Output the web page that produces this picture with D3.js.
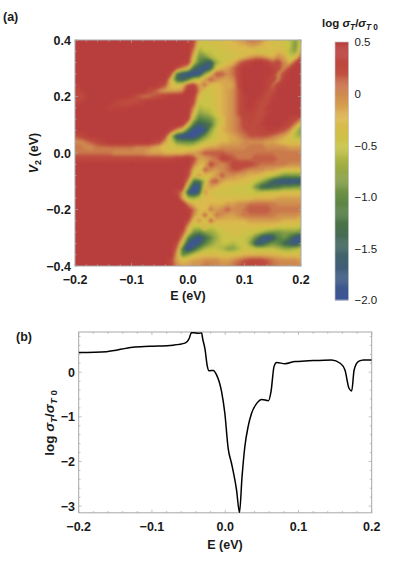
<!DOCTYPE html>
<html><head><meta charset="utf-8">
<script src="https://cdnjs.cloudflare.com/ajax/libs/d3/7.8.5/d3.min.js"></script>
<style>html,body{margin:0;padding:0;background:#fff}svg{display:block}
text{font-family:"Liberation Sans",Arial,sans-serif;fill:#1a1a1a}</style></head><body>
<svg id="c" width="395" height="566"></svg>
<script>
// Heatmap values, in tenths of log(sigma_T/sigma_T0). Rows: V2 = 0.40 down to -0.40 step 0.02
const energyLeft = d3.range(-20,0).map(n=>n/100);   // columns of negValues
const energyRight = d3.range(0,21).map(n=>n/100);   // columns of posValues
const negValues = [
[5,5,5,5,5,5,5,5,5,5,5,5,5,5,5,5,5,5,5,5],
[5,5,5,5,5,5,5,5,5,5,5,5,5,5,5,5,5,5,5,5],
[5,5,5,5,5,5,5,5,5,5,5,5,5,5,5,5,5,5,5,5],
[5,5,5,5,5,5,5,5,5,5,5,5,5,5,5,5,5,5,5,5],
[5,5,5,5,5,5,5,5,5,5,5,5,5,5,5,5,5,5,5,5],
[5,5,5,5,5,5,5,5,5,5,5,5,5,5,5,5,5,5,3,0],
[5,5,5,5,5,5,5,5,5,5,5,5,5,5,5,5,5,3,-12,-17],
[5,5,5,5,5,5,5,5,5,5,5,5,5,5,5,5,5,-3,-13,-15],
[4,5,5,5,5,5,5,5,5,5,5,5,5,5,5,4,2,-3,-4,-3],
[3,4,5,5,5,5,5,5,5,5,5,5,5,3,2,0,-1,-1,-1,0],
[3,3,4,5,5,5,5,5,5,5,4,2,1,1,2,3,4,5,5,5],
[3,4,5,5,5,5,5,4,3,2,2,3,4,5,5,5,5,5,5,5],
[5,5,5,5,5,5,4,4,4,4,5,5,5,5,5,5,5,5,5,5],
[5,5,5,5,5,5,5,5,5,5,5,5,5,5,5,5,5,5,5,5],
[5,5,5,5,5,5,5,5,5,5,5,5,5,5,5,5,5,5,5,5],
[5,5,5,5,5,5,5,5,5,5,5,5,5,5,5,5,5,5,5,4],
[5,5,5,5,5,5,5,5,5,5,5,5,5,5,5,5,5,3,-1,-4],
[2,3,4,5,5,5,5,5,5,5,5,5,5,5,5,5,3,-6,-17,-20],
[0,0,1,2,3,4,5,5,5,5,5,5,5,5,4,3,-1,-4,-9,-10],
[1,1,0,0,1,1,1,1,1,1,1,0,0,0,-1,-2,-3,-4,-4,-4],
[1,1,1,1,1,1,1,0,0,0,0,0,0,-1,-1,-1,-2,-2,-2,-2],
[3,3,3,3,3,3,3,3,3,3,3,3,3,3,3,3,3,3,4,4],
[5,5,5,5,5,5,5,5,5,5,5,5,5,5,5,5,5,5,5,5],
[5,5,5,5,5,5,5,5,5,5,5,5,5,5,5,5,5,5,5,5],
[5,5,5,5,5,5,5,5,5,5,5,5,5,5,5,5,5,5,5,5],
[5,5,5,5,5,5,5,5,5,5,5,5,5,5,5,5,5,5,5,5],
[5,5,5,5,5,5,5,5,5,5,5,5,5,5,5,5,5,5,5,5],
[5,5,5,5,5,5,5,5,5,5,5,5,5,5,5,5,5,5,3,0],
[5,5,5,5,5,5,5,5,5,5,5,5,5,5,5,5,5,5,5,-1],
[5,5,5,5,5,5,5,5,5,5,5,5,5,5,5,5,5,5,5,5],
[5,5,5,5,5,5,5,5,5,5,5,5,5,5,5,5,5,5,5,5],
[5,5,5,5,5,5,5,5,5,5,5,5,5,5,5,5,5,5,5,5],
[5,5,5,5,5,5,5,5,5,5,5,5,5,5,5,5,5,5,5,5],
[5,5,5,5,5,5,5,5,5,5,5,5,5,5,5,5,5,5,5,5],
[5,5,5,5,5,5,5,5,5,5,5,5,5,5,5,5,5,5,5,3],
[5,5,5,5,5,5,5,5,5,5,5,5,5,5,5,5,5,5,5,0],
[5,5,5,5,5,5,5,5,5,5,5,5,5,5,5,5,5,5,3,-4],
[5,5,5,5,5,5,5,5,5,5,5,5,5,5,5,5,5,5,1,-12],
[5,5,5,5,5,5,5,5,5,5,5,5,5,5,5,5,5,5,-1,-10],
[5,5,5,5,5,5,5,5,5,5,5,5,5,5,5,5,5,3,-1,-3],
[5,5,5,5,5,5,5,5,5,5,5,5,5,5,5,5,5,3,0,-1]
];
const posValues = [
[5,3,-3,-4,-3,-3,-3,-2,-2,-1,0,1,1,0,-2,-3,-3,-4,-5,-8,-4],
[5,2,-5,-4,-4,-4,-3,-3,-2,-2,-2,-1,-1,-2,-2,-3,-3,-4,-5,-9,-3],
[5,0,-7,-5,-5,-4,-4,-4,-3,-3,-3,-3,-4,-4,-4,-3,-2,-3,-6,-8,-1],
[5,-3,-9,-9,-6,-5,-4,-4,-4,-3,-2,-1,0,0,-1,-2,0,-1,-5,-4,2],
[4,-5,-11,-14,-17,-7,-5,-3,-2,1,3,4,5,5,4,2,3,0,-2,3,5],
[-3,-13,-16,-20,-15,-4,-2,-1,1,3,5,5,5,5,5,4,3,0,3,5,5],
[-19,-20,-19,-8,-3,2,2,0,1,3,5,5,5,5,5,4,0,3,5,5,5],
[-12,-6,-4,-1,2,0,-1,-1,0,3,5,5,5,5,4,4,0,4,5,5,5],
[3,4,-1,1,-3,-3,-2,-1,-1,3,5,5,5,5,4,1,4,5,5,5,5],
[5,5,0,-4,-4,-3,-2,-1,0,2,5,5,5,5,3,2,5,5,5,5,5],
[5,4,-3,-4,-4,-3,-2,-1,0,2,4,5,5,4,2,4,5,5,5,5,5],
[5,3,-5,-5,-4,-3,-2,-1,0,2,4,5,4,3,2,5,5,5,5,5,5],
[5,0,-6,-5,-5,-3,-2,-1,0,2,4,5,4,2,4,5,5,5,5,5,5],
[5,-3,-8,-7,-6,-4,-2,-1,0,2,4,4,3,2,4,5,5,5,5,5,5],
[4,-6,-11,-10,-9,-6,-3,-1,0,1,3,4,3,3,5,5,5,5,4,3,1],
[-3,-12,-16,-14,-12,-6,-3,-1,0,1,3,3,3,4,5,5,5,4,3,0,-5],
[-12,-19,-20,-18,-8,-4,-2,-1,0,1,2,3,3,4,4,4,3,2,0,-5,-9],
[-20,-20,-15,-9,-6,-4,-3,-2,-1,0,1,2,2,2,2,1,0,-1,-3,-6,-7],
[-10,-10,-7,-5,-4,-3,-2,-2,-1,-1,0,0,0,0,-1,-1,-2,-3,-3,-3,-3],
[-5,-4,-3,-2,-1,-1,0,0,0,0,0,1,1,1,0,0,0,0,-1,-1,-1],
[-1,-1,0,2,2,2,2,1,1,1,1,1,1,1,1,1,1,1,1,1,1],
[5,3,-1,-1,0,1,3,3,2,1,1,1,2,2,2,2,1,1,1,1,1],
[5,1,-2,-2,3,1,0,1,3,3,3,3,2,1,1,1,1,1,0,0,0],
[4,-2,-4,2,0,-1,0,1,2,2,1,0,0,0,-1,-1,-2,-3,-3,-3,-3],
[3,-4,0,-3,-3,-1,2,0,0,-1,-1,-2,-2,-3,-4,-5,-7,-9,-9,-9,-9],
[0,-12,-13,-6,1,2,-1,-2,-2,-2,-3,-3,-5,-7,-10,-15,-18,-19,-19,-19,-19],
[-7,-20,-18,-2,-1,-2,-3,-3,-4,-4,-4,-5,-9,-14,-15,-13,-12,-10,-10,-9,-9],
[-16,-20,-14,0,-3,-4,-4,-4,-4,-4,-4,-5,-5,-5,-4,-4,-4,-3,-3,-3,-3],
[-6,-7,-5,-3,-2,-3,-3,-3,-3,-3,-3,-3,-2,-2,-2,-2,-1,-1,-1,-1,-1],
[0,-2,-2,-2,-2,-2,-2,-1,-1,0,0,1,1,1,1,1,0,0,0,0,0],
[4,1,-2,-3,1,-1,0,2,0,0,1,2,2,2,2,1,1,1,1,1,1],
[5,0,-3,2,-3,1,0,-1,-1,0,1,1,1,1,1,1,0,0,0,0,-1],
[3,-3,0,-4,2,-2,-2,-2,-2,-2,-2,-1,-1,-1,-1,-1,-1,-2,-2,-2,-3],
[-1,-5,-5,-1,-5,-4,-3,-3,-3,-3,-3,-3,-3,-3,-3,-3,-4,-4,-4,-4,-5],
[-3,-9,-10,-8,-7,-6,-4,-4,-3,-3,-4,-4,-5,-6,-8,-9,-9,-8,-8,-8,-9],
[-10,-15,-20,-14,-10,-7,-5,-4,-4,-4,-5,-6,-10,-17,-20,-18,-11,-9,-12,-19,-18],
[-17,-20,-16,-11,-8,-6,-5,-5,-6,-5,-4,-8,-16,-17,-12,-9,-10,-14,-16,-19,-13],
[-20,-14,-9,-6,-5,-5,-6,-8,-8,-6,-4,-4,-5,-5,-5,-5,-6,-7,-7,-6,-5],
[-8,-5,-3,-3,-3,-3,-3,-3,-3,-3,-2,-2,-2,-2,-2,-2,-2,-3,-3,-3,-3],
[-2,-1,-1,0,0,0,-1,-1,0,1,2,3,3,3,2,1,0,0,0,0,-1],
[-1,0,0,1,1,0,0,0,1,2,3,4,4,3,2,1,1,0,0,0,0]
];
const colorStops = [0.5,0.2,0,-0.25,-0.5,-1,-1.25,-1.5,-2];
const colorHex = ["#b83c3c","#bf4f40","#cf8950","#dcb94e","#c8c446","#648c46","#4b7346","#416464","#3c559b"];
const barTicks = [0.5,0,-0.5,-1,-1.5,-2];
const barTickLabels = ["0.5","0","−0.5","−1.0","−1.5","−2.0"];
// Panel (b) curve
const curveE = [-0.2,-0.162,-0.126,-0.103,-0.071,-0.055,-0.049,-0.046,-0.041,-0.037,-0.032,-0.0313,-0.0274,-0.0247,-0.022,-0.0163,-0.0118,-0.005,-0.0005,0.004,0.0086,0.0155,0.0195,0.023,0.0268,0.0313,0.036,0.043,0.05,0.059,0.0626,0.0667,0.0703,0.0817,0.0954,0.109,0.1454,0.157,0.1635,0.169,0.1727,0.176,0.182,0.189,0.2];
const curveLog = [0.44,0.46,0.56,0.58,0.605,0.65,0.76,0.89,0.88,0.87,0.88,0.80,0.50,0.16,0.03,0.04,-0.06,-0.43,-0.92,-1.70,-2.04,-2.64,-3.14,-2.34,-1.67,-1.22,-0.92,-0.70,-0.61,-0.64,-0.43,0.13,0.215,0.19,0.24,0.25,0.275,0.2,0.05,-0.36,-0.42,0.05,0.24,0.275,0.275];
const xTicksLabels = [-0.2,-0.1,0,0.1,0.2];
const yTicksA = [-0.4,-0.2,0,0.2,0.4];
const yTicksB = [0,-1,-2,-3];

const svg = d3.select("#c");
const fmtSigned = (v,d)=> (v<0?"−":"")+Math.abs(v).toFixed(d);
const axisGrey = "#a8a8a8";
const fontBold = {size:12.5, weight:"bold"};

const grid = negValues.flatMap((r,i)=>r.concat(posValues[i])).map(v=>v/10);
const nx = energyLeft.length+energyRight.length, ny = negValues.length;

const xA = d3.scaleLinear().domain([-0.2,0.2]).range([75,301]);
const yA = d3.scaleLinear().domain([-0.4,0.4]).range([266,40]);
const color = d3.scaleLinear().domain(colorStops).range(colorHex).clamp(true);
const gx = d3.scaleLinear().domain([0.5,nx-0.5]).range(xA.range());
const gy = d3.scaleLinear().domain([0.5,ny-0.5]).range(yA.range().slice().reverse());

const defs = svg.append("defs");
defs.append("clipPath").attr("id","clipA").append("rect")
  .attr("x",xA(-0.2)).attr("y",yA(0.4)).attr("width",xA(0.2)-xA(-0.2)).attr("height",yA(-0.4)-yA(0.4));
defs.append("filter").attr("id","soft").attr("x","-5%").attr("y","-5%").attr("width","110%").attr("height","110%")
  .append("feGaussianBlur").attr("stdDeviation",1.0);
defs.append("clipPath").attr("id","clipB").append("rect")
  .attr("x",78.7).attr("y",332).attr("width",293).attr("height",181);

const thresholds = d3.range(-2,0.5001,0.05);
const contours = d3.contours().size([nx,ny]).thresholds(thresholds).smooth(true)(grid);
const path = d3.geoPath(d3.geoTransform({point(x,y){this.stream.point(gx(x),gy(y));}}));
const heat = svg.append("g").attr("clip-path","url(#clipA)").append("g").attr("filter","url(#soft)");
heat.append("rect").attr("x",xA(-0.2)-4).attr("y",yA(0.4)-4).attr("width",234).attr("height",234).attr("fill",color(-2));
heat.selectAll("path").data(contours).join("path")
  .attr("d",path).attr("fill",d=>color(d.value)).attr("stroke",d=>color(d.value)).attr("stroke-width",0.3);

function frame(x,y,ticksX,ticksY,minorX,minorY){
  const [x0,x1]=x.range(), [y1,y0]=y.range();
  const g=svg.append("g");
  g.append("rect").attr("x",x0).attr("y",y0).attr("width",x1-x0).attr("height",y1-y0)
    .attr("fill","none").attr("stroke",axisGrey).attr("stroke-width",1);
  const tick=(a,b,c,d)=>g.append("line").attr("x1",a).attr("y1",b).attr("x2",c).attr("y2",d).attr("stroke",axisGrey).attr("stroke-width",0.7);
  minorX.forEach(v=>{const l=ticksX.some(t=>Math.abs(t-v)<1e-6)?3:1.8;tick(x(v),y1,x(v),y1-l);tick(x(v),y0,x(v),y0+l);});
  minorY.forEach(v=>{const l=ticksY.some(t=>Math.abs(t-v)<1e-6)?3:1.8;tick(x0,y(v),x0+l,y(v));tick(x1,y(v),x1-l,y(v));});
  ticksX.forEach(v=>g.append("text").attr("x",x(v)).attr("y",y1+18).attr("text-anchor","middle")
    .attr("font-size",fontBold.size).attr("font-weight",fontBold.weight).text(fmtSigned(v,1)));
  return g;
}
const fA = frame(xA,yA,xTicksLabels,yTicksA,d3.range(-0.2,0.2001,0.02),d3.range(-0.4,0.4001,0.04));
yTicksA.forEach(v=>fA.append("text").attr("x",71).attr("y",yA(v)+4.5).attr("text-anchor","end")
  .attr("font-size",fontBold.size).attr("font-weight",fontBold.weight).text(fmtSigned(v,1)));

const label=(x,y,t,anchor)=>svg.append("text").attr("x",x).attr("y",y).attr("text-anchor",anchor||"start")
  .attr("font-size",12.5).attr("font-weight","bold").text(t);
label(3,21,"(a)");
label(16,341,"(b)");
label(188,300,"E (eV)","middle");
label(225,549,"E (eV)","middle");

// rotated V2 title
const vt=svg.append("text").attr("transform","translate(38,153) rotate(-90)").attr("text-anchor","middle")
  .attr("font-size",12.5).attr("font-weight","bold");
vt.append("tspan").attr("font-style","italic").text("V");
vt.append("tspan").attr("font-size",9).attr("dy",3).text("2");
vt.append("tspan").attr("dy",-3).text(" (eV)");

function sigmaTitle(sel,fs){
  sel.attr("font-size",fs).attr("font-weight","bold");
  sel.append("tspan").text("log ");
  sel.append("tspan").attr("font-style","italic").text("σ");
  sel.append("tspan").attr("font-style","italic").attr("font-size",fs*0.72).attr("dy",3).text("T");
  sel.append("tspan").attr("dy",-3).text("/");
  sel.append("tspan").attr("font-style","italic").text("σ");
  sel.append("tspan").attr("font-style","italic").attr("font-size",fs*0.72).attr("dy",3).text("T");
  sel.append("tspan").attr("font-size",fs*0.72).text(" 0");
}
sigmaTitle(svg.append("text").attr("x",322).attr("y",27),11.5);
sigmaTitle(svg.append("text").attr("transform","translate(54,423) rotate(-90)").attr("text-anchor","middle"),13.5);

// colour bar
const yBar = d3.scaleLinear().domain([-2,0.5]).range([300,42]);
const barG = svg.append("g");
barG.selectAll("rect").data(d3.range(-2,0.5,0.01)).join("rect")
  .attr("x",335).attr("width",13.5).attr("y",d=>yBar(d+0.01)).attr("height",d=>yBar(d)-yBar(d+0.01)+0.4)
  .attr("fill",d=>color(d+0.005));
barG.append("rect").attr("x",335).attr("y",yBar(0.5)).attr("width",13.5).attr("height",yBar(-2)-yBar(0.5))
  .attr("fill","none").attr("stroke","#c4c4c4").attr("stroke-width",0.7);
barTicks.forEach((v,i)=>svg.append("text").attr("x",354.5).attr("y",yBar(v)+4.3)
  .attr("font-size",11.5).attr("fill","#333").text(barTickLabels[i]));

// Panel b
const xB = d3.scaleLinear().domain([-0.2,0.2]).range([78.7,371.7]);
const yB = d3.scaleLinear().domain([-3.15,0.9]).range([512.8,332]);
const fB = frame(xB,yB,xTicksLabels,yTicksB,d3.range(-0.2,0.2001,0.02),d3.range(-3,0.801,0.2));
yTicksB.forEach(v=>fB.append("text").attr("x",75).attr("y",yB(v)+4.5).attr("text-anchor","end")
  .attr("font-size",fontBold.size).attr("font-weight",fontBold.weight).text(fmtSigned(v,0)));
const line = d3.line().x(d=>xB(d[0])).y(d=>yB(d[1])).curve(d3.curveMonotoneX);
svg.append("path").attr("clip-path","url(#clipB)").attr("d",line(d3.zip(curveE,curveLog)))
  .attr("fill","none").attr("stroke","#000").attr("stroke-width",1.5).attr("stroke-linejoin","round");
</script></body></html>
